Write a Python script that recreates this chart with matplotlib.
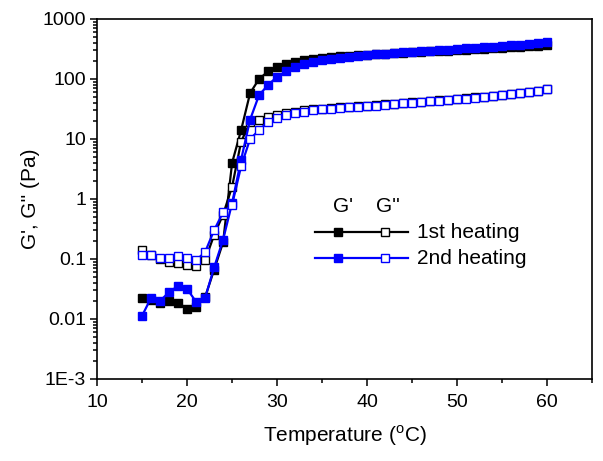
import matplotlib
matplotlib.use("Agg")
import matplotlib.pyplot as plt
from matplotlib.ticker import FixedLocator, FixedFormatter, LogLocator, NullFormatter, MultipleLocator

plt.rcParams['font.family'] = ['Liberation Sans', 'DejaVu Sans']
plt.rcParams['mathtext.fontset'] = 'custom'
plt.rcParams['mathtext.rm'] = 'Liberation Sans'

# temperature steps (1 degC), same for both runs
temp = list(range(15, 61))

# 1st heating
g1_storage = [0.022, 0.021, 0.0185, 0.020, 0.0187, 0.0148, 0.0158, 0.023, 0.066, 0.19,
              4.0, 14, 58, 100, 133, 155, 175, 190, 205, 214,
              222, 230, 237, 243, 249, 254, 259, 264, 268, 273,
              278, 283, 288, 292, 297, 302, 307, 312, 318, 324,
              330, 337, 344, 352, 360, 370]
g1_loss = [0.14, 0.115, 0.10, 0.09, 0.085, 0.078, 0.076, 0.095, 0.25, 0.55,
           1.6, 9, 19, 21, 23, 25, 27, 28.5, 30, 31,
           32, 33, 34, 34.5, 35, 35.5, 36.5, 37.5, 38.5, 39.5,
           40.5, 42, 43, 44, 45, 46, 47.5, 49, 50.5, 52,
           54, 56, 58.5, 61, 64, 67]

# 2nd heating
g2_storage = [0.0113, 0.0225, 0.020, 0.028, 0.0355, 0.0316, 0.0193, 0.0224, 0.072, 0.21,
              0.85, 4.5, 21, 54, 79, 109, 133, 155, 178, 193,
              206, 216, 226, 235, 243, 251, 258, 265, 272, 278,
              284, 290, 296, 302, 308, 315, 322, 329, 337, 345,
              353, 362, 372, 384, 398, 412]
g2_loss = [0.118, 0.115, 0.105, 0.105, 0.11, 0.105, 0.095, 0.13, 0.30, 0.60,
           0.80, 3.5, 10, 14, 19.5, 22.5, 25, 27, 28.5, 30,
           31, 32, 33, 34, 34.5, 35, 36, 37, 38, 39,
           40, 41.5, 42.5, 43.5, 44.5, 45.5, 47, 48.5, 50, 51.5,
           53.5, 55.5, 58, 61, 64, 68]

y_ticks = [1e-3, 1e-2, 1e-1, 1, 10, 100, 1000]
y_tick_labels = ['1E-3', '0.01', '0.1', '1', '10', '100', '1000']

fig = plt.figure(figsize=(6.03, 4.61), dpi=100)
ax = fig.add_axes([0.161, 0.178, 0.821, 0.781])

ms = 5.6
lw = 1.6
ax.plot(temp, g1_storage, '-s', color='black', lw=lw, ms=ms)
ax.plot(temp, g1_loss, '-s', color='black', lw=lw, ms=ms, mfc='white', mew=1.0)
ax.plot(temp, g2_storage, '-s', color='blue', lw=lw, ms=ms)
ax.plot(temp, g2_loss, '-s', color='blue', lw=lw, ms=ms, mfc='white', mew=1.0)

ax.set_yscale('log')
ax.set_xlim(10, 65)
ax.set_ylim(1e-3, 1000)
ax.yaxis.set_major_locator(FixedLocator(y_ticks))
ax.yaxis.set_major_formatter(FixedFormatter(y_tick_labels))
ax.yaxis.set_minor_locator(LogLocator(base=10, subs=range(2, 10)))
ax.yaxis.set_minor_formatter(NullFormatter())
ax.xaxis.set_major_locator(FixedLocator([10, 20, 30, 40, 50, 60]))
ax.xaxis.set_minor_locator(MultipleLocator(5))

for s in ax.spines.values():
    s.set_linewidth(1.2)
ax.tick_params(which='both', direction='out', width=1.1, labelsize=14, top=False, right=False)
ax.tick_params(which='major', length=5)
ax.tick_params(axis='y', which='major', pad=3)
ax.tick_params(axis='x', which='major', pad=6)
ax.tick_params(which='minor', length=3)

ax.set_xlabel('Temperature ($^{\\mathrm{o}}$C)', fontsize=15, labelpad=9)
ax.set_ylabel("G', G'' (Pa)", fontsize=15, labelpad=2)

# hand-made legend (axes fractions)
tr = ax.transAxes
ax.text(0.497, 0.478, "G'", transform=tr, ha='center', va='center', fontsize=15)
ax.text(0.588, 0.478, "G''", transform=tr, ha='center', va='center', fontsize=15)
rows = [(0.408, 'black', '1st heating'), (0.335, 'blue', '2nd heating')]
for yy, c, lab in rows:
    ax.plot([0.440, 0.628], [yy, yy], color=c, lw=lw, transform=tr, clip_on=False)
    ax.plot([0.487], [yy], 's', color=c, ms=ms, transform=tr)
    ax.plot([0.582], [yy], 's', color=c, ms=ms, mfc='white', mew=1.0, transform=tr)
    ax.text(0.646, yy, lab, transform=tr, ha='left', va='center', fontsize=15)

fig.savefig('out.png', dpi=100)
